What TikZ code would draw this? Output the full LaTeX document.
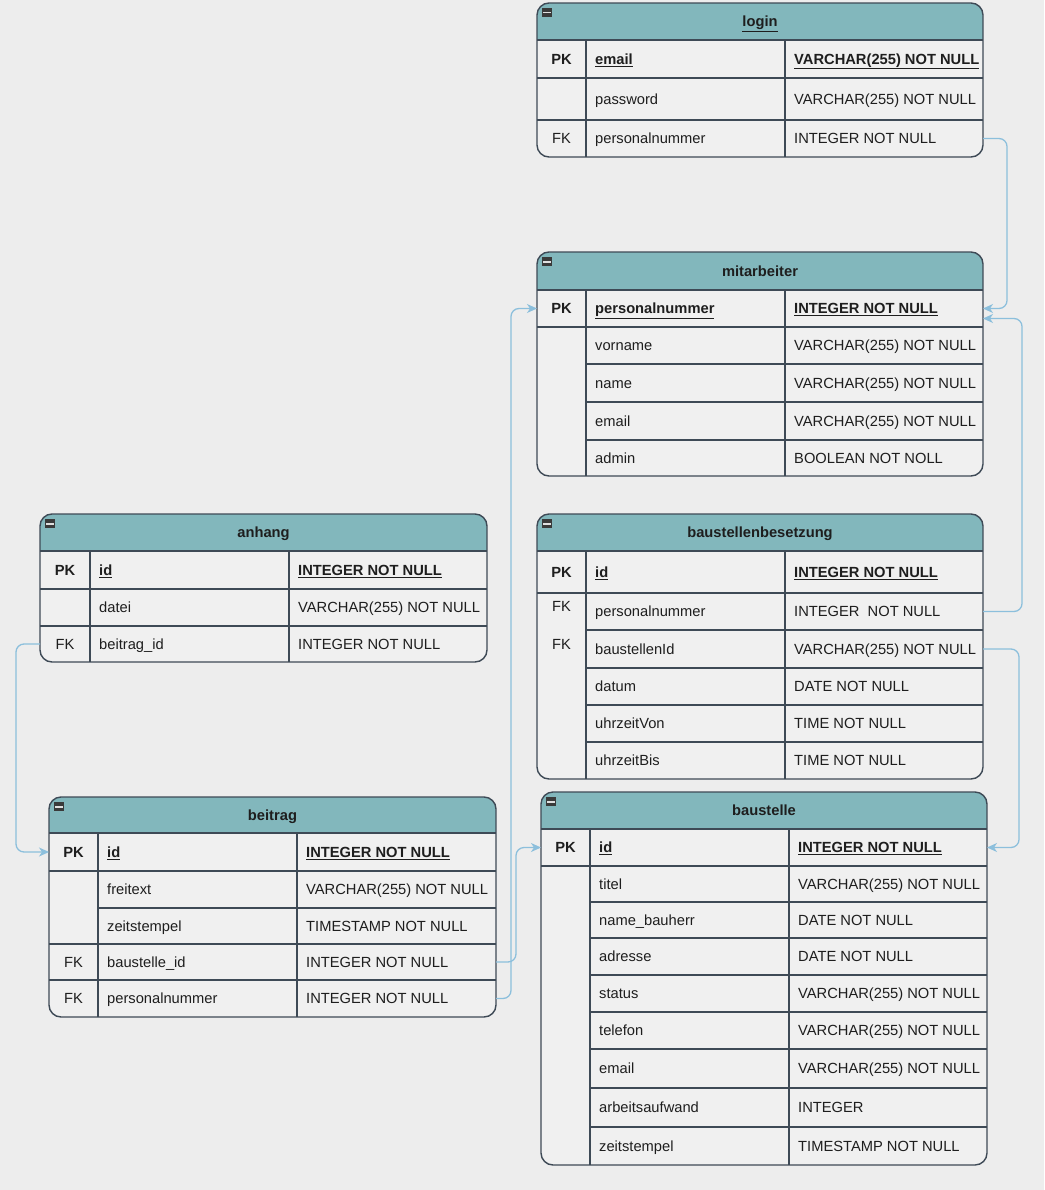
\documentclass[tikz,border=0pt]{standalone}
\usepackage{fontspec}
\setmainfont{Liberation Sans}
\usetikzlibrary{arrows.meta}
\definecolor{bgfill}{HTML}{EDEDED}
\definecolor{bodyfill}{HTML}{F0F0F0}
\definecolor{headfill}{HTML}{82B7BC}
\definecolor{erline}{HTML}{3E4A56}
\definecolor{ertext}{HTML}{1E1E1E}
\definecolor{erlink}{HTML}{8CBFDC}
\definecolor{iconfill}{HTML}{3A3A3A}
\newcommand{\setcols}[4]{\def\colL{#1}\def\colA{#2}\def\colB{#3}\def\colR{#4}}
\newcommand{\pk}[1]{\textbf{\underline{#1}}}
\newcommand{\ertable}[5]{%
  \begin{scope}
    \clip[rounded corners=12pt] (\colL,#2) rectangle (\colR,#4);
    \fill[bodyfill] (\colL,#2) rectangle (\colR,#4);
    \fill[headfill] (\colL,#2) rectangle (\colR,#3);
  \end{scope}
  \draw[tabline] (\colL,#3) -- (\colR,#3) (\colA,#3) -- (\colA,#4) (\colB,#3) -- (\colB,#4);
  \draw[tabframe] (\colL,#2) rectangle (\colR,#4);
  \fill[iconfill] ({\colL+5},{#2+5}) rectangle ({\colL+15},{#2+14});
  \fill[black!12] ({\colL+6},{#2+9}) rectangle ({\colL+14},{#2+10.5});
  \node[titletext] (#1) at ({(\colL+\colR)/2},{(#2+#3)/2}) {#5};
}
\newcommand{\errow}[7][\colL]{%
  \draw[tabline] (#1,#3) -- (\colR,#3);
  \node[rowspan, minimum width={(\colR-\colL)*1pt}, minimum height={(#4-#3)*1pt}] (#2) at ({(\colL+\colR)/2},{(#3+#4)/2}) {};
  \node[keytext] (#2-k) at ({(\colL+\colA)/2},{(#3+#4)/2}) {#5};
  \node[celltext] (#2-f) at ({\colA+9},{(#3+#4)/2}) {#6};
  \node[celltext] (#2-t) at ({\colB+9},{(#3+#4)/2}) {#7};
}

\begin{document}
\begin{tikzpicture}[x=1pt, y=-1pt,
    font=\fontsize{14.7}{17}\selectfont,
    tabline/.style={draw=erline, line width=1.2pt},
    tabframe/.style={draw=erline, line width=1.4pt, rounded corners=12pt},
    rowspan/.style={inner sep=0pt, outer sep=0pt},
    keytext/.style={inner sep=0pt, text height=12pt, text depth=1.5pt, text=ertext},
    celltext/.style={keytext, anchor=west},
    titletext/.style={keytext, font=\fontsize{14.7}{17}\selectfont\bfseries},
    fklink/.style={draw=erlink, line width=1.3pt, rounded corners=8pt, -{Stealth[length=10pt,width=9pt,inset=3pt]}}]
		%%%%% START %%%%%

		\fill[bgfill] (0,0) rectangle (1044,1190);
		\useasboundingbox (0,0) rectangle (1044,1190);

		% login
		\setcols{537}{586}{785}{983}
		\ertable{login}{3}{40}{157}{\underline{login}}
		\errow{login-em}{40}{78}{\textbf{PK}}{\pk{email}}{\pk{VARCHAR(255) NOT NULL}}
		\errow{login-pw}{78}{120}{}{password}{VARCHAR(255) NOT NULL}
		\errow{login-pn}{120}{157}{FK}{personalnummer}{INTEGER NOT NULL}

		% mitarbeiter
		\ertable{mit}{252}{290}{476}{mitarbeiter}
		\errow{mit-pn}{290}{327}{\textbf{PK}}{\pk{personalnummer}}{\pk{INTEGER NOT NULL}}
		\errow{mit-vn}{327}{364}{}{vorname}{VARCHAR(255) NOT NULL}
		\errow[\colA]{mit-nm}{364}{402}{}{name}{VARCHAR(255) NOT NULL}
		\errow[\colA]{mit-em}{402}{440}{}{email}{VARCHAR(255) NOT NULL}
		\errow[\colA]{mit-ad}{440}{476}{}{admin}{BOOLEAN NOT NOLL}

		% baustellenbesetzung
		\ertable{bb}{514}{551}{779}{baustellenbesetzung}
		\errow{bb-id}{551}{593}{\textbf{PK}}{\pk{id}}{\pk{INTEGER NOT NULL}}
		\errow{bb-pn}{593}{630}{\raisebox{5pt}{FK}}{personalnummer}{INTEGER\ \ NOT NULL}
		\errow[\colA]{bb-bid}{630}{668}{\raisebox{5pt}{FK}}{baustellenId}{VARCHAR(255) NOT NULL}
		\errow[\colA]{bb-dt}{668}{705}{}{datum}{DATE NOT NULL}
		\errow[\colA]{bb-von}{705}{742}{}{uhrzeitVon}{TIME NOT NULL}
		\errow[\colA]{bb-bis}{742}{779}{}{uhrzeitBis}{TIME NOT NULL}

		% anhang
		\setcols{40}{90}{289}{487}
		\ertable{anh}{514}{551}{662}{anhang}
		\errow{anh-id}{551}{589}{\textbf{PK}}{\pk{id}}{\pk{INTEGER NOT NULL}}
		\errow{anh-dt}{589}{626}{}{datei}{VARCHAR(255) NOT NULL}
		\errow{anh-bid}{626}{662}{FK}{beitrag\_id}{INTEGER NOT NULL}

		% beitrag
		\setcols{49}{98}{297}{496}
		\ertable{btr}{797}{833}{1017}{beitrag}
		\errow{btr-id}{833}{871}{\textbf{PK}}{\pk{id}}{\pk{INTEGER NOT NULL}}
		\errow{btr-ft}{871}{908}{}{freitext}{VARCHAR(255) NOT NULL}
		\errow[\colA]{btr-zs}{908}{944}{}{zeitstempel}{TIMESTAMP NOT NULL}
		\errow{btr-bid}{944}{980}{FK}{baustelle\_id}{INTEGER NOT NULL}
		\errow{btr-pn}{980}{1017}{FK}{personalnummer}{INTEGER NOT NULL}

		% baustelle
		\setcols{541}{590}{789}{987}
		\ertable{bst}{792}{829}{1165}{baustelle}
		\errow{bst-id}{829}{866}{\textbf{PK}}{\pk{id}}{\pk{INTEGER NOT NULL}}
		\errow{bst-ti}{866}{902}{}{titel}{VARCHAR(255) NOT NULL}
		\errow[\colA]{bst-bh}{902}{938}{}{name\_bauherr}{DATE NOT NULL}
		\errow[\colA]{bst-ad}{938}{975}{}{adresse}{DATE NOT NULL}
		\errow[\colA]{bst-st}{975}{1012}{}{status}{VARCHAR(255) NOT NULL}
		\errow[\colA]{bst-tel}{1012}{1049}{}{telefon}{VARCHAR(255) NOT NULL}
		\errow[\colA]{bst-em}{1049}{1088}{}{email}{VARCHAR(255) NOT NULL}
		\errow[\colA]{bst-aw}{1088}{1127}{}{arbeitsaufwand}{INTEGER}
		\errow[\colA]{bst-zs}{1127}{1165}{}{zeitstempel}{TIMESTAMP NOT NULL}

		% foreign keys
		\draw[fklink] (login-pn.east) -- ++(24,0) |- (mit-pn.east);
		\draw[fklink] (bb-pn.east) -- ++(39,0) |- ([yshift=-10pt]mit-pn.east);
		\draw[fklink] (bb-bid.east) -- ++(36,0) |- (bst-id.east);
		\draw[fklink] (anh-bid.west) -- ++(-24,0) |- (btr-id.west);
		\draw[fklink] (btr-bid.east) -- ++(20,0) |- (bst-id.west);
		\draw[fklink] (btr-pn.east) -- ++(15,0) |- (mit-pn.west);

		%%%%% END %%%%%
	\end{tikzpicture}
\end{document}
